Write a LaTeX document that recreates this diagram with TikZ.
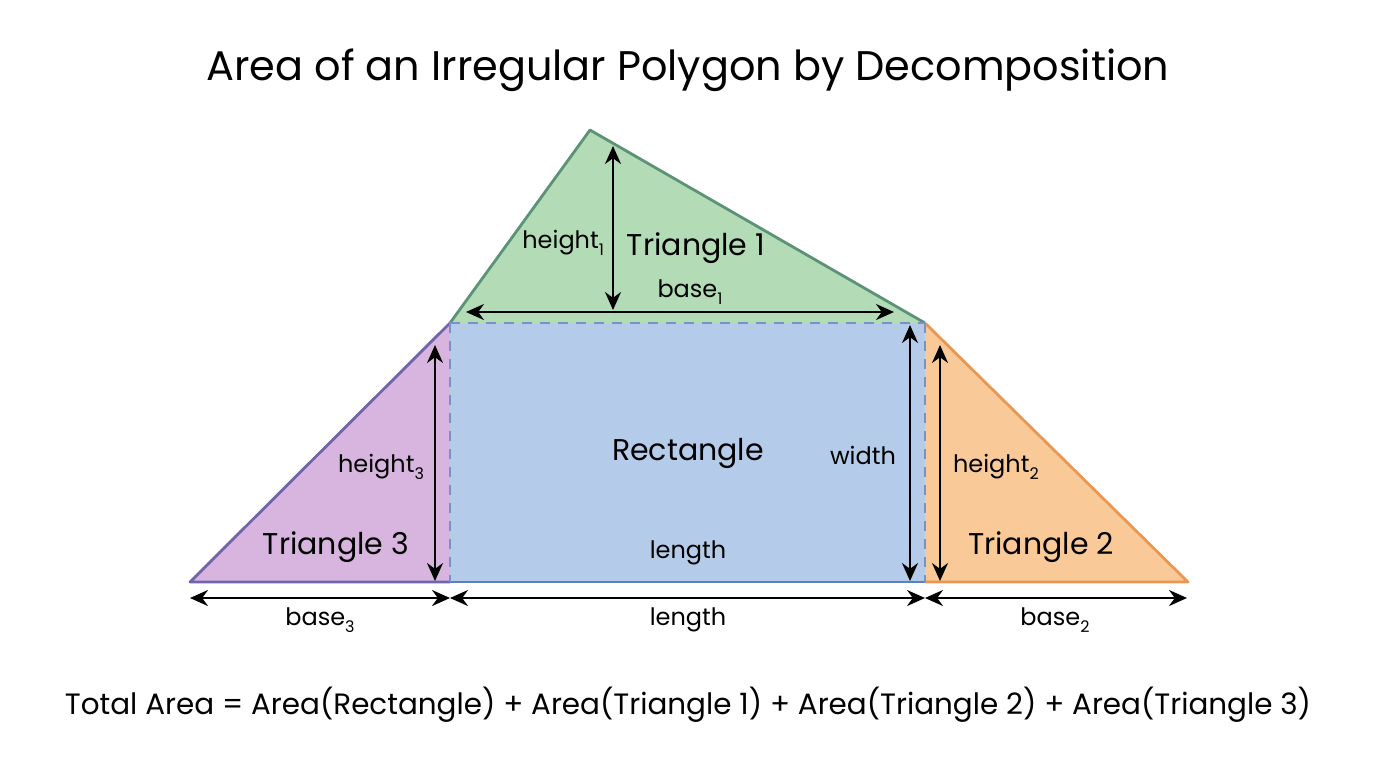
\documentclass[tikz,border=0pt]{standalone}
\usepackage{fontspec}
\setmainfont{Poppins}
\usetikzlibrary{arrows.meta}
\definecolor{greenfill}{RGB}{179,219,182}
\definecolor{greenline}{RGB}{92,146,118}
\definecolor{bluefill}{RGB}{180,204,233}
\definecolor{blueline}{RGB}{92,128,190}
\definecolor{purplefill}{RGB}{215,181,223}
\definecolor{purpleline}{RGB}{112,100,170}
\definecolor{orangefill}{RGB}{250,201,152}
\definecolor{orangeline}{RGB}{232,152,84}
\newcommand{\lowsub}[1]{\raisebox{-0.55ex}{\fontsize{8}{9}\selectfont #1}}
\tikzset{
  edge/.style={line width=1.4pt,line join=round},
  cut/.style={line width=1.3pt,blueline!85,dash pattern=on 5pt off 4pt},
  dim/.style={line width=1.1pt,<->},
  piece/.style={font=\fontsize{15}{18}\selectfont},
  lab/.style={font=\fontsize{12}{14}\selectfont}
}
\begin{document}
\begin{tikzpicture}[x=0.5pt,y=-0.5pt,>={Stealth[length=9pt,width=8pt]}]
\useasboundingbox(0,0)rectangle(1376,768);
% corners of the polygon
\coordinate(A)at(590,130);
\coordinate(B)at(450,323);
\coordinate(C)at(925,323);
\coordinate(D)at(1188,582);
\coordinate(E)at(925,582);
\coordinate(F)at(450,582);
\coordinate(G)at(190,582);
% the four pieces
\fill[bluefill](B)rectangle(E);
\fill[greenfill](A)--(B)--(C)--cycle;
\fill[purplefill](G)--(B)--(F)--cycle;
\fill[orangefill](C)--(D)--(E)--cycle;
\draw[edge,greenline](B)--(A)--(C);
\draw[edge,purpleline](F)--(G)--(B);
\draw[edge,orangeline](C)--(D)--(E);
\draw[edge,blueline](F)--(E);
\draw[cut](B)--(C);
\draw[cut](B)--(F);
\draw[cut](C)--(E);
% dimension arrows
\coordinate(h1top)at(613,146);
\coordinate(h1bot)at(613,310);
\coordinate(b1l)at(466,312);
\coordinate(b1r)at(894,312);
\draw[dim](h1top)--(h1bot);
\draw[dim](b1l)--(b1r);
\coordinate(h3top)at(435,345);
\coordinate(h3bot)at(435,581);
\draw[dim](h3top)--(h3bot);
\coordinate(wtop)at(910,325);
\coordinate(wbot)at(910,581);
\draw[dim](wtop)--(wbot);
\coordinate(h2top)at(940,345);
\coordinate(h2bot)at(940,581);
\draw[dim](h2top)--(h2bot);
\coordinate(g0)at(190,598);
\coordinate(g1)at(450,598);
\coordinate(g2)at(925,598);
\coordinate(g3)at(1187,598);
\draw[dim](g0)--(g1);
\draw[dim](g1)--(g2);
\draw[dim](g2)--(g3);
% labels
\node(title)at(688,70){\fontsize{20.7}{25}\selectfont Area of an Irregular Polygon by Decomposition};
\node[piece](t1)at(696,248){Triangle 1};
\node[piece](t2)at(1041,547){Triangle 2};
\node[piece](t3)at(336,547){Triangle 3};
\node[piece](rect)at(688,453){Rectangle};
\node[lab,anchor=east](hgt1)at(611,243){height\lowsub{1}};
\node[lab](base1)at(690,292){base\lowsub{1}};
\node[lab,anchor=east](hgt3)at(431,467){height\lowsub{3}};
\node[lab,anchor=west](hgt2)at(946,467){height\lowsub{2}};
\node[lab,anchor=east](wid)at(903,455){width};
\node[lab](len1)at(688,553){length};
\node[lab](base3)at(320,620){base\lowsub{3}};
\node[lab](len2)at(688,620){length};
\node[lab](base2)at(1055,620){base\lowsub{2}};
\node(total)at(688,705){\fontsize{14.7}{18}\selectfont Total Area = Area(Rectangle) + Area(Triangle 1) + Area(Triangle 2) + Area(Triangle 3)};
\end{tikzpicture}
\end{document}
